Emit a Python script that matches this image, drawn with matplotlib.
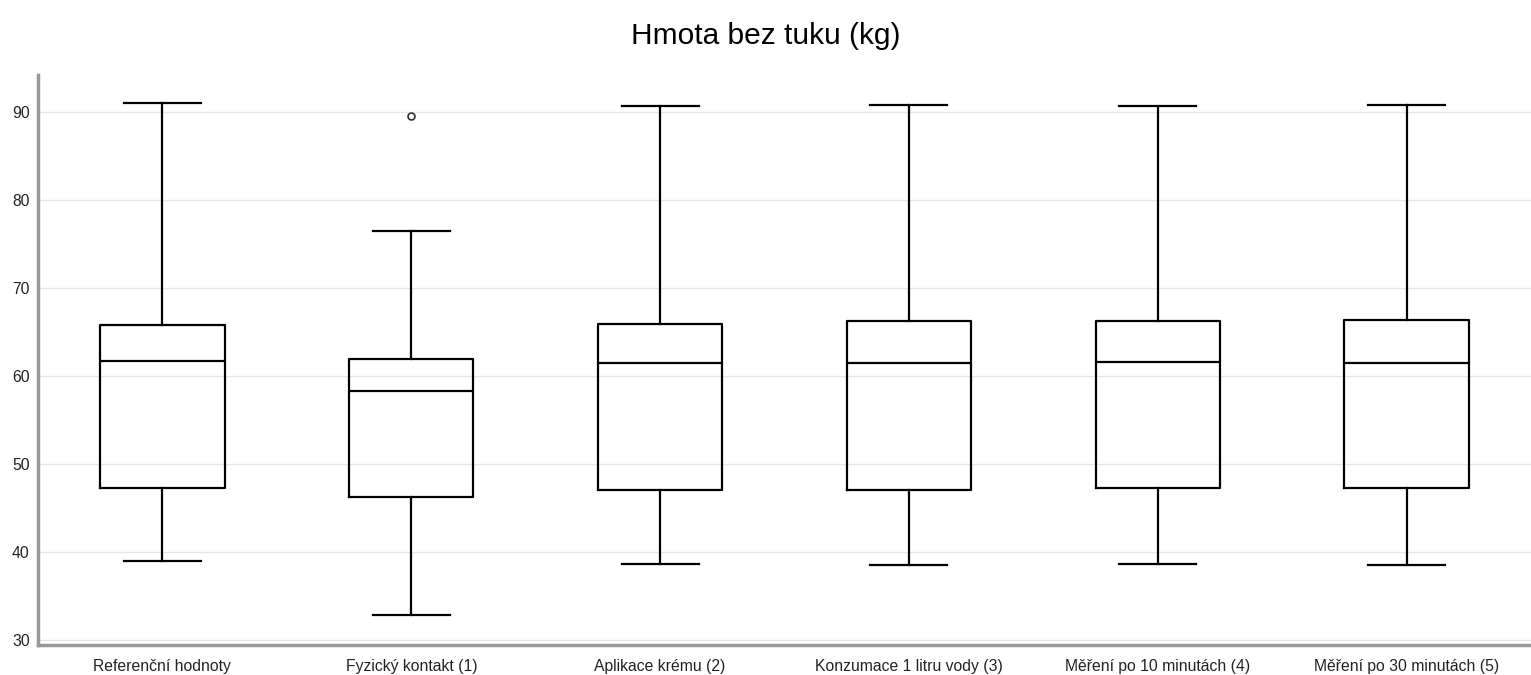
import matplotlib.pyplot as plt

# Box statistics
categories = ['Referenční hodnoty', 'Fyzický kontakt (1)', 'Aplikace krému (2)',
              'Konzumace 1 litru vody (3)', 'Měření po 10 minutách (4)', 'Měření po 30 minutách (5)']
whislo = [38.9, 32.8, 38.6, 38.5, 38.6, 38.5]
q1 = [47.2, 46.2, 47.0, 47.0, 47.2, 47.3]
med = [61.7, 58.3, 61.5, 61.5, 61.6, 61.5]
q3 = [65.8, 61.9, 65.9, 66.2, 66.2, 66.3]
whishi = [91.0, 76.5, 90.7, 90.8, 90.7, 90.8]
fliers = [[], [89.5], [], [], [], []]

stats = []
for i, name in enumerate(categories):
    stats.append({'label': name, 'whislo': whislo[i], 'q1': q1[i], 'med': med[i],
                  'q3': q3[i], 'whishi': whishi[i], 'fliers': fliers[i]})

plt.rcParams['font.family'] = ['Liberation Sans', 'DejaVu Sans']

fig = plt.figure(figsize=(15.31, 6.75), dpi=100)
ax = fig.add_axes([38 / 1531, 1 - 645 / 675, 1 - 38 / 1531, (645 - 75) / 675])

lw = 1.6
ax.bxp(stats, positions=range(len(categories)), widths=0.5, showfliers=True,
       boxprops=dict(color='black', linewidth=lw),
       medianprops=dict(color='black', linewidth=lw),
       whiskerprops=dict(color='black', linewidth=lw),
       capprops=dict(color='black', linewidth=lw),
       capwidths=0.31,
       flierprops=dict(marker='o', markersize=5, markerfacecolor='white',
                       markeredgecolor='#333333', markeredgewidth=1.2))

ax.set_xlim(-0.5, 5.5)
ax.set_ylim(29.4, 94.2)
ax.set_yticks([30, 40, 50, 60, 70, 80, 90])
ax.grid(axis='y', color='#e6e6e6', linewidth=1)
ax.set_axisbelow(True)
ax.tick_params(length=0, labelsize=11.3, colors='#222222')
ax.tick_params(axis='x', pad=10)
ax.tick_params(axis='y', pad=6)
for s in ['top', 'right']:
    ax.spines[s].set_visible(False)
for s in ['left', 'bottom']:
    ax.spines[s].set_color('#999999')
    ax.spines[s].set_linewidth(2.5)

fig.text(0.5, 1 - 36 / 675, 'Hmota bez tuku (kg)', ha='center', va='center', fontsize=21.5)

fig.savefig('out.png', dpi=100)
